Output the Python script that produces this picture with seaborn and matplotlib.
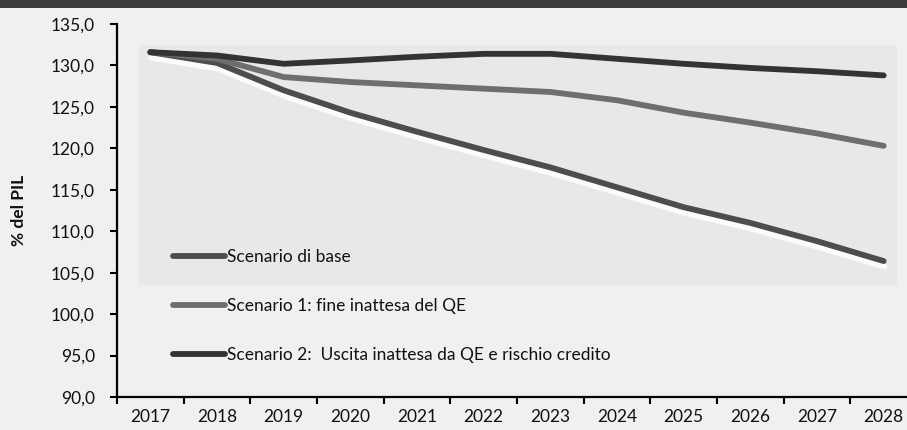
import matplotlib
matplotlib.use("Agg")
import matplotlib.pyplot as plt
import matplotlib.patheffects as pe
from matplotlib.patches import Rectangle
from matplotlib.ticker import FixedLocator, FuncFormatter
import seaborn as sns
import pandas as pd

years = ["2017", "2018", "2019", "2020", "2021", "2022",
         "2023", "2024", "2025", "2026", "2027", "2028"]
base = [131.6, 130.3, 127.0, 124.3, 122.0, 119.8,
        117.7, 115.3, 112.9, 111.0, 108.8, 106.4]
scen1 = [131.6, 130.8, 128.6, 128.0, 127.6, 127.2,
         126.8, 125.8, 124.3, 123.1, 121.8, 120.3]
scen2 = [131.6, 131.2, 130.2, 130.6, 131.05, 131.4,
         131.4, 130.8, 130.2, 129.7, 129.3, 128.8]
labels = ["Scenario di base",
          "Scenario 1: fine inattesa del QE",
          "Scenario 2:  Uscita inattesa da QE e rischio credito"]
colors = ["#4d4d4d", "#6e6e6e", "#333333"]

df = pd.concat([
    pd.DataFrame({"anno": years, "valore": vals, "scenario": lab})
    for vals, lab in zip([base, scen1, scen2], labels)
], ignore_index=True)

sns.set_theme(style="ticks")
plt.rcParams["font.family"] = ["Lato", "DejaVu Sans"]

W, H = 907, 430
FS = 12.5
fig = plt.figure(figsize=(W / 100, H / 100), dpi=100)
fig.patch.set_facecolor("#f0f0f0")

# dark header band
fig.patches.append(Rectangle((0, 1 - 8 / H), 1, 8 / H, transform=fig.transFigure,
                             facecolor="#3b3b3b", edgecolor="none", zorder=0))

ax = fig.add_axes([117 / W, 33 / H, 800 / W, 373 / H])
ax.set_facecolor("none")

# inner plot panel, behind the series
ax.add_patch(Rectangle((139 / W, 1 - 285 / H), (897 - 139) / W, (285 - 45) / H,
                       transform=fig.transFigure, facecolor="#e8e8e8",
                       edgecolor="none", zorder=-5, clip_on=False))

sns.lineplot(data=df, x="anno", y="valore", hue="scenario", hue_order=labels,
             palette=colors, linewidth=4.2, sort=False, ax=ax,
             legend=True)

for line in ax.get_lines():
    line.set_solid_capstyle("round")
    line.set_solid_joinstyle("round")
ax.get_lines()[0].set_path_effects([
    pe.SimpleLineShadow(offset=(0.5, -4), shadow_color="white", alpha=0.85),
    pe.Normal()])

ax.set_xlim(-0.5, 11.5)
ax.set_ylim(90, 135)
ax.set_yticks(range(90, 136, 5))
ax.yaxis.set_major_formatter(FuncFormatter(lambda v, p: f"{v:.1f}".replace(".", ",")))
ax.set_xticks(range(len(years)))
ax.set_xticklabels(years)
ax.xaxis.set_minor_locator(FixedLocator([i - 0.5 for i in range(len(years) + 1)]))
ax.tick_params(axis="x", which="major", length=0, pad=9, labelsize=FS, colors="#111111")
ax.tick_params(axis="x", which="minor", length=5, width=1.5, color="black")
ax.tick_params(axis="y", which="major", length=5, width=1.5, color="black",
               pad=11, labelsize=FS, labelcolor="#111111")

for s in ("top", "right"):
    ax.spines[s].set_visible(False)
for s in ("left", "bottom"):
    ax.spines[s].set_linewidth(1.6)
    ax.spines[s].set_color("black")

ax.set_xlabel("")
ax.set_ylabel("% del PIL", fontsize=FS, fontweight="bold", labelpad=17, color="#111111")

leg = ax.legend(loc="upper left", bbox_to_anchor=(49 / 800, (397 - 242) / 373),
                frameon=False, handlelength=3.0, handletextpad=0.12,
                labelspacing=1.9, fontsize=FS, borderaxespad=0)
for h in leg.get_lines():
    h.set_linewidth(4.2)
    h.set_solid_capstyle("round")
    h.set_path_effects([])
for t in leg.get_texts():
    t.set_color("#111111")

fig.savefig("out.png", dpi=100, facecolor=fig.get_facecolor())
